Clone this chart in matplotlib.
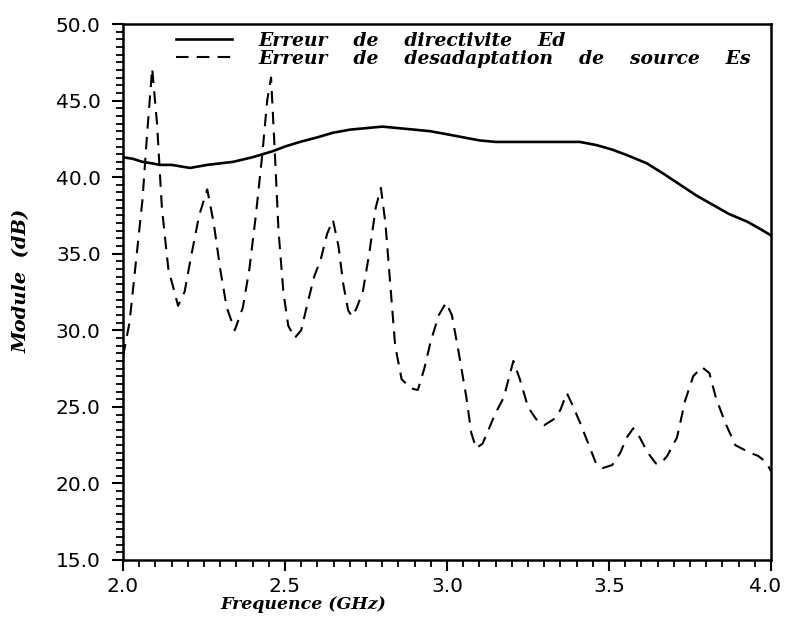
import matplotlib

matplotlib.use("Agg")
import matplotlib.pyplot as plt
from matplotlib.ticker import MultipleLocator, FormatStrFormatter
from matplotlib.transforms import ScaledTranslation

# Erreur de directivite Ed
freq_ed = [2.00, 2.03, 2.06, 2.09, 2.114, 2.15, 2.207, 2.26, 2.34, 2.40,
           2.463, 2.50, 2.546, 2.60, 2.648, 2.70, 2.75, 2.80, 2.85, 2.90,
           2.948, 3.00, 3.05, 3.10, 3.15, 3.20, 3.256, 3.30, 3.35, 3.41,
           3.46, 3.51, 3.56, 3.617, 3.67, 3.72, 3.77, 3.82, 3.87, 3.926,
           3.96, 4.00]
ed = [41.3, 41.2, 41.0, 40.9, 40.8, 40.8, 40.6, 40.8, 41.0, 41.3,
      41.7, 42.0, 42.3, 42.6, 42.9, 43.1, 43.2, 43.3, 43.2, 43.1,
      43.0, 42.8, 42.6, 42.4, 42.3, 42.3, 42.3, 42.3, 42.3, 42.3,
      42.1, 41.8, 41.4, 40.9, 40.2, 39.5, 38.8, 38.2, 37.6, 37.1,
      36.7, 36.2]

# Erreur de desadaptation de source Es
freq_es = [2.000, 2.02, 2.04, 2.06, 2.075, 2.09, 2.105, 2.12, 2.14, 2.17,
           2.19, 2.21, 2.235, 2.26, 2.28, 2.30, 2.32, 2.345, 2.37, 2.39,
           2.41, 2.43, 2.445, 2.457, 2.47, 2.48, 2.495, 2.51, 2.53, 2.55,
           2.57, 2.59, 2.61, 2.63, 2.648, 2.665, 2.68, 2.695, 2.707, 2.72,
           2.74, 2.76, 2.78, 2.796, 2.81, 2.825, 2.84, 2.86, 2.89, 2.91,
           2.93, 2.95, 2.975, 2.997, 3.015, 3.035, 3.06, 3.075, 3.09, 3.11,
           3.13, 3.15, 3.175, 3.205, 3.225, 3.25, 3.275, 3.30, 3.33, 3.35,
           3.37, 3.39, 3.41, 3.44, 3.46, 3.48, 3.51, 3.535, 3.555, 3.575,
           3.595, 3.62, 3.645, 3.66, 3.68, 3.71, 3.735, 3.76, 3.787, 3.81,
           3.83, 3.86, 3.89, 3.935, 3.96, 3.985, 4.0]
es = [28.3, 30.5, 34.5, 38.5, 43.0, 47.1, 43.5, 38.0, 34.0, 31.6,
      32.5, 34.8, 37.5, 39.2, 37.0, 34.0, 31.5, 30.0, 31.5, 34.0,
      37.5, 41.5, 45.0, 46.5, 41.0, 36.5, 32.5, 30.3, 29.5, 30.0,
      31.8, 33.5, 34.6, 36.3, 37.2, 35.5, 33.0, 31.3, 30.9, 31.4,
      32.5, 35.0, 38.0, 39.3, 37.0, 33.0, 29.0, 26.8, 26.2, 26.1,
      27.5, 29.3, 31.0, 31.8, 31.0, 28.7, 25.6, 23.3, 22.3, 22.6,
      23.6, 24.6, 25.6, 28.0, 26.8, 25.0, 24.2, 23.8, 24.2, 24.8,
      25.9, 25.0, 24.0, 22.4, 21.3, 21.0, 21.2, 22.0, 23.0, 23.6,
      23.0, 22.0, 21.3, 21.3, 21.8, 23.0, 25.4, 27.0, 27.6, 27.2,
      25.6, 23.9, 22.5, 22.0, 21.8, 21.4, 20.8]

label_ed = "Erreur    de    directivite    Ed"
label_es = "Erreur    de    desadaptation    de    source    Es"

label_font = dict(family="DejaVu Serif", weight="bold", style="italic")

fig = plt.figure(figsize=(7.85, 6.22), dpi=100)
ax = fig.add_axes([0.1567, 0.0997, 0.8254, 0.8617])

ax.plot(freq_ed, ed, color="black", lw=1.9, label=label_ed)
ax.plot(freq_es, es, color="black", lw=1.5, dashes=(6, 4), label=label_es)

ax.set_xlim(2.0, 4.0)
ax.set_ylim(15.0, 50.0)
ax.xaxis.set_major_locator(MultipleLocator(0.5))
ax.xaxis.set_minor_locator(MultipleLocator(0.05))
ax.yaxis.set_major_locator(MultipleLocator(5.0))
ax.yaxis.set_minor_locator(MultipleLocator(0.5))
ax.xaxis.set_major_formatter(FormatStrFormatter("%.1f"))
ax.yaxis.set_major_formatter(FormatStrFormatter("%.1f"))

ax.tick_params(axis="both", which="major", direction="out", length=8, width=1.5,
               labelsize=14.5, colors="black")
ax.tick_params(axis="both", which="minor", direction="out", length=5, width=1.3)
ax.tick_params(axis="y", which="major", pad=8)
ax.tick_params(axis="x", which="major", pad=4)
for spine in ax.spines.values():
    spine.set_linewidth(1.8)

# keep the "4.0" label inside the picture
for lab in ax.get_xticklabels():
    if lab.get_text() == "4.0":
        lab.set_transform(lab.get_transform()
                          + ScaledTranslation(-0.06, 0, fig.dpi_scale_trans))

ax.set_xlabel("Frequence (GHz)", fontsize=12.5, **label_font)
ax.xaxis.set_label_coords(0.279, -0.068)
ax.set_ylabel("Module  (dB)", fontsize=14, **label_font)
ax.yaxis.set_label_coords(-0.142, 0.52)

ax.legend(loc="upper left", bbox_to_anchor=(0.082, 0.985), frameon=False,
          borderaxespad=0, borderpad=0, handlelength=3.0, handletextpad=1.4,
          labelspacing=0.0, prop=dict(size=13.5, **label_font))

fig.savefig("out.png", dpi=100)
plt.close(fig)
